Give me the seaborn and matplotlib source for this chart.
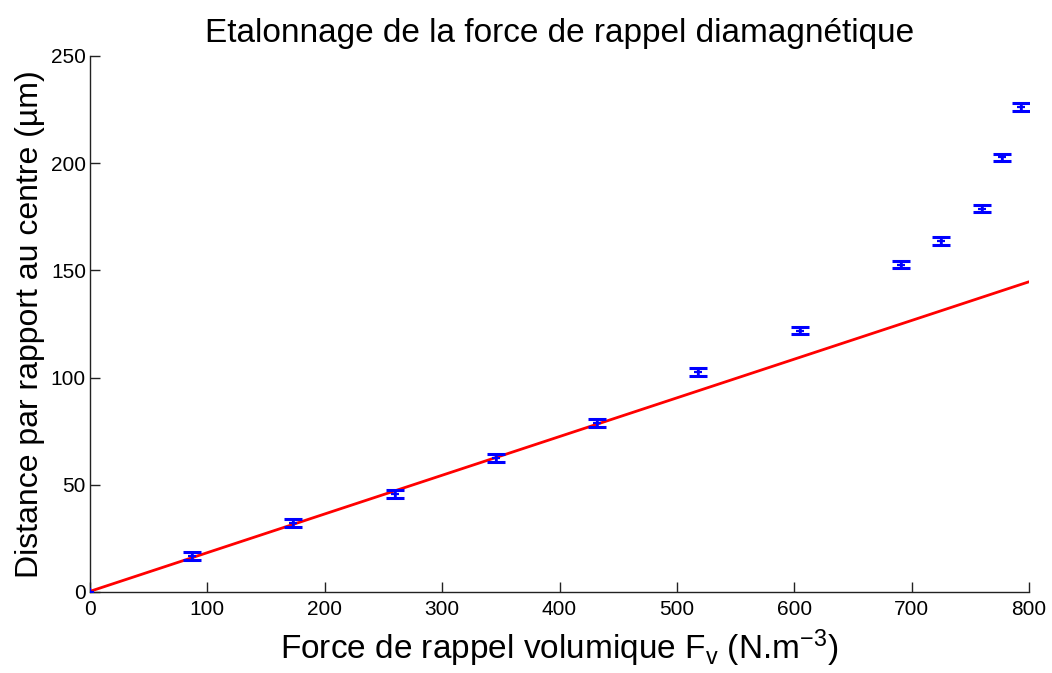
import matplotlib
matplotlib.use("Agg")
import matplotlib.pyplot as plt
import seaborn as sns
import pandas as pd

# Measured points: volumic restoring force vs. displacement from centre
force = [0.0, 86.6, 173.2, 259.9, 345.6, 431.7, 518.2, 604.9, 690.6, 725.3, 759.7, 776.7, 793.4]
distance = [0.0, 16.8, 32.3, 45.7, 62.4, 78.7, 102.5, 121.9, 152.7, 163.7, 178.8, 202.7, 226.1]
distance_err = [0.0] + [1.8] * 12

# Linear calibration line (endpoints)
fit_force = [0.0, 800.0]
fit_distance = [0.3, 144.7]

xticks = [0, 100, 200, 300, 400, 500, 600, 700, 800]
yticks = [0, 50, 100, 150, 200, 250]

sns.set_theme(style="ticks")
plt.rcParams["font.family"] = ["Liberation Sans", "DejaVu Sans"]
plt.rcParams["mathtext.default"] = "regular"
plt.rcParams["text.color"] = "black"
plt.rcParams["axes.labelcolor"] = "black"

fig = plt.figure(figsize=(10.52, 6.73), dpi=100)
ax = fig.add_axes([0.0856, 0.1204, 0.8926, 0.7964])

meas = pd.DataFrame({"force": force, "distance": distance})
fit = pd.DataFrame({"force": fit_force, "distance": fit_distance})

ax.errorbar(force[1:], distance[1:], yerr=distance_err[1:], fmt="none",
            ecolor="#0000ff", elinewidth=1.8, capsize=6.3, capthick=2.2, zorder=3)
sns.lineplot(data=fit, x="force", y="distance", color="#ff0000", linewidth=2,
             ax=ax, zorder=2)
sns.scatterplot(data=meas, x="force", y="distance", marker="+", color="#0000ff",
                s=30, linewidth=1.6, ax=ax, zorder=4)

ax.set_xlim(0, 800)
ax.set_ylim(0, 250)
ax.set_xticks(xticks)
ax.set_yticks(yticks)
ax.tick_params(direction="in", length=7, width=1, labelsize=15, colors="#222222",
               labelcolor="black")
ax.tick_params(axis="x", pad=6)
ax.tick_params(axis="y", pad=3)
for side in ("top", "right"):
    ax.spines[side].set_visible(False)
for side in ("left", "bottom"):
    ax.spines[side].set_linewidth(1)
    ax.spines[side].set_color("#222222")

ax.set_title("Etalonnage de la force de rappel diamagnétique", fontsize=24, pad=10)
ax.set_xlabel("Force de rappel volumique F$_{v}$ (N.m$^{-3}$)", fontsize=24, labelpad=6)
ax.set_ylabel("Distance par rapport au centre (µm)", fontsize=23, labelpad=4)

fig.savefig("out.png", dpi=100)
